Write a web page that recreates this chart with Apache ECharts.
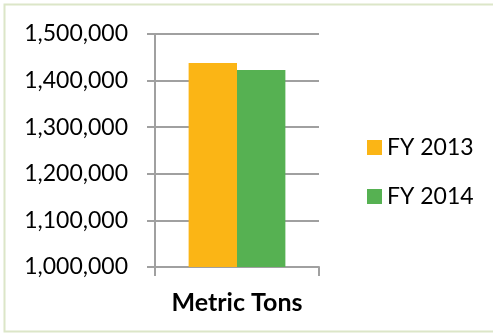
<!DOCTYPE html>
<html><head><meta charset="utf-8">
<script src="https://cdn.jsdelivr.net/npm/echarts@6/dist/echarts.min.js"></script>
<style>html,body{margin:0;padding:0;background:#fff}#c{width:493px;height:334px}</style>
</head><body><div id="c"></div>
<script>
const categories = ['Metric Tons'];
const seriesNames = ['FY 2013', 'FY 2014'];
const fy2013 = [1438000];
const fy2014 = [1423000];
const yMin = 1000000, yMax = 1500000, yStep = 100000;

const chart = echarts.init(document.getElementById('c'));
const gray = '#a0a0a0';
const font = 'Lato';
chart.setOption({
  animation: false,
  backgroundColor: '#fff',
  graphic: [{type:'rect', shape:{x:4.5,y:4.5,width:500,height:327}, style:{fill:'none',stroke:'#dce6c8',lineWidth:2}}],
  grid: {left:155, right:174, top:34, bottom:67},
  legend: {orient:'vertical', left:362, top:131, itemWidth:15, itemHeight:15, itemGap:26,
    icon:'rect', textStyle:{fontFamily:font, fontSize:23, color:'#000', lineHeight:20}},
  xAxis: {type:'category', data:categories,
    axisLine:{lineStyle:{color:gray,width:2}},
    axisTick:{show:true,length:9,lineStyle:{color:gray,width:2}},
    axisLabel:{fontFamily:font,fontSize:25,fontWeight:'bold',color:'#000',margin:23}},
  yAxis: {type:'value', min:yMin, max:yMax, interval:yStep,
    axisLine:{show:true,lineStyle:{color:gray,width:2}},
    axisTick:{show:true,length:8,lineStyle:{color:gray,width:2}},
    splitLine:{lineStyle:{color:gray,width:2}},
    axisLabel:{fontFamily:font,fontSize:23,color:'#000',margin:27,
      formatter:v=>v.toLocaleString('en-US')}},
  series: [
    {name:seriesNames[0], type:'bar', data:fy2013, itemStyle:{color:'#fbb515'}, barGap:'0%', barCategoryGap:'41%'},
    {name:seriesNames[1], type:'bar', data:fy2014, itemStyle:{color:'#56b152'}}
  ]
});
</script></body></html>
